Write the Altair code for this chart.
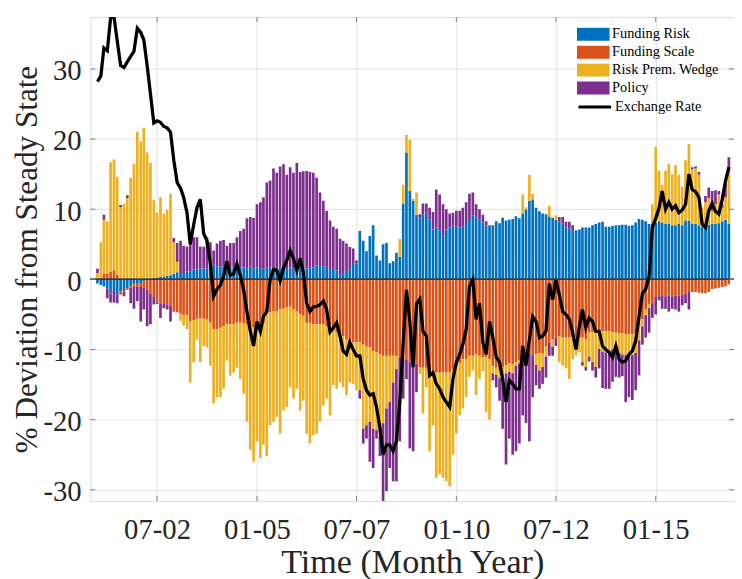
import altair as alt
import pandas as pd

SERIES = ["Funding Risk", "Funding Scale", "Risk Prem. Wedge", "Policy"]
COLORS = ["#0072BD", "#D95319", "#EDB120", "#7E2F8E"]
LINE_NAME = "Exchange Rate"
START = "2001-01-01"

FUNDING_RISK = [
    -0.6, -0.8, -1.0, -1.3, -2.0, -1.5, -2.2, -1.7, -1.5, -1.3, -0.8, -0.7, -0.5, -0.5, -0.3, 0.1,
    0.1, 0.2, 0.25, 0.4, 0.4, 0.5, 0.6, 0.8, 1.0, 0.9, 0.9, 1.1, 1.1, 1.4, 1.4,
    1.55, 1.55, 1.5, 1.6, 2.1, 1.8, 1.8, 1.8, 1.5, 1.6, 1.7, 1.7, 1.7, 1.7, 1.6, 1.8,
    1.6, 1.7, 1.5, 1.5, 1.6, 1.7, 1.5, 1.6, 1.8, 1.6, 1.5, 1.7, 1.6, 1.8, 1.6, 1.6,
    1.55, 1.6, 1.7, 2.0, 1.9, 1.8, 1.9, 1.3, 1.5, 1.3, 0.6, 0.9, 1.2, 1.5, 2.2, 2.3,
    6.9, 5.5, 4.0, 6.2, 7.7, 3.4, 2.7, 5.0, 5.2, 2.3, 2.6, 3.8, 3.2, 10.8, 18.1, 12.6,
    11.2, 9.2, 8.7, 9.3, 9.5, 8.5, 7.1, 7.4, 7.0, 6.3, 7.1, 7.4, 7.7, 7.5, 7.4, 7.5,
    7.9, 8.6, 9.1, 8.8, 8.5, 8.1, 7.7, 7.7, 7.7, 8.3, 8.0, 8.8, 8.4, 8.5, 8.6,
    9.0, 8.7, 9.4, 9.9, 11.2, 11.4, 10.2, 9.7, 9.4, 9.3, 8.9, 8.8, 8.5, 8.3, 8.0, 7.4,
    7.2, 7.0, 7.0, 7.1, 7.4, 7.4, 7.4, 7.7, 7.9, 8.1, 8.2, 7.5, 7.5, 7.6, 7.7, 7.7,
    7.8, 7.8, 7.6, 7.7, 8.1, 8.6, 8.5, 8.3, 7.9, 7.9, 8.1, 8.3, 8.1, 7.9, 7.9, 7.7,
    7.7, 7.9, 7.7, 8.4, 8.4, 7.9, 7.9, 7.7, 7.5, 7.5, 7.8, 7.9, 7.9, 8.0, 8.3, 8.5, 7.9,
]

FUNDING_SCALE = [
    0.0, 0.2, 0.8, 0.8, 1.1, 1.3, 0.7, -0.5, -0.2, -0.2, -0.4, -0.4, -0.5, -0.6, -0.9, -1.5,
    -2.0, -2.4, -3.3, -3.4, -3.5, -3.6, -3.7, -4.6, -4.7, -4.9, -5.1, -5.1, -6.0, -5.8, -5.6,
    -5.5, -5.6, -5.7, -6.2, -7.1, -7.1, -6.9, -6.7, -6.4, -6.4, -6.4, -6.2, -6.2, -6.3, -6.4, -6.7,
    -6.9, -6.9, -7.1, -6.2, -4.8, -4.7, -4.6, -4.6, -4.3, -4.2, -4.0, -3.9, -4.3, -4.6, -5.0, -5.2,
    -6.2, -6.3, -6.4, -6.4, -6.4, -6.4, -6.7, -7.1, -7.4, -7.6, -7.9, -8.1, -8.6, -8.8, -9.0, -9.0,
    -9.0, -9.3, -9.5, -9.7, -10.2, -10.4, -10.7, -10.9, -10.9, -10.9, -10.9, -10.9, -11.1, -11.4, -11.4, -11.7,
    -11.9, -12.0, -12.5, -12.6, -12.6, -12.9, -13.3, -13.3, -13.3, -13.3, -13.3, -13.2, -12.8, -12.4, -11.9, -11.4,
    -11.4, -10.9, -10.9, -10.7, -10.9, -11.1, -11.1, -11.4, -12.4, -12.6, -12.9, -12.5, -12.2, -12.0, -12.1,
    -11.8, -11.5, -10.9, -10.7, -10.5, -10.9, -10.7, -10.5, -10.5, -9.5, -9.0, -8.6, -8.3, -8.1, -8.3, -8.3,
    -8.3, -8.3, -8.3, -8.3, -8.3, -8.5, -7.5, -7.5, -7.4, -7.4, -7.4, -7.4, -7.4, -7.5, -7.6, -7.7,
    -7.7, -7.8, -7.8, -7.8, -7.7, -6.7, -5.7, -4.3, -3.6, -3.4, -2.5, -2.4, -2.2, -2.4, -2.3, -2.4,
    -2.3, -2.3, -2.2, -2.0, -1.8, -1.8, -1.8, -1.9, -2.0, -2.0, -1.8, -1.4, -1.3, -1.2, -1.1, -1.0, -0.7,
]

RISK_PREM_WEDGE = [
    0.9, 5.1, 7.7, 7.5, 15.6, 15.8, 13.9, 10.3, 10.8, 11.6, 14.5, 16.5, 21.0, 19.7, 21.6, 18.0,
    16.5, 11.1, 9.3, 11.3, 9.0, 9.4, 11.6, 4.5, 1.5, -1.0, -1.5, -2.0, -8.7, -6.0, -3.0,
    -6.3, -3.9, -4.0, -6.1, -10.6, -9.7, -9.9, -8.9, -5.2, -7.3, -6.9, -6.4, -8.0, -10.0, -13.9, -17.6,
    -19.1, -16.2, -18.4, -17.4, -20.4, -16.1, -15.7, -15.0, -17.7, -14.5, -14.2, -11.5, -12.7, -11.0, -13.7, -12.1,
    -15.8, -17.1, -15.8, -15.6, -13.9, -11.6, -10.3, -12.3, -7.7, -8.0, -6.8, -7.3, -7.9, -5.9, -5.9, -6.8,
    -6.8, -12.0, -11.3, -10.6, -11.1, -11.1, -11.7, -9.6, -7.5, -6.6, -3.8, -1.9, 2.6, 2.7, 2.5, 7.3,
    0.3, 3.2, -1.0, -6.5, -2.8, -11.6, -7.5, -15.0, -14.5, -15.0, -15.5, -16.3, -12.2, -9.6, -7.5, -7.0,
    -5.4, -3.0, -2.1, -5.8, -3.3, -2.0, -7.8, -8.6, -1.0, -1.0, -1.2, -1.5, -1.2, -1.2, -1.3,
    -0.5, -0.5, 2.7, 0.4, 3.7, 0.8, -1.5, -2.5, -2.0, -1.5, 1.6, -1.0, 0.6, -3.7, -4.0, -4.4,
    -5.9, -3.1, -2.6, -2.1, -3.5, -4.0, -3.5, -4.3, -5.1, -2.5, -2.9, -3.0, -2.8, -2.5, -2.3, -2.8,
    -3.0, -3.0, -3.0, -3.0, -2.8, -2.0, -1.0, -0.8, -0.5, 2.8, 10.8, 7.2, 5.4, 7.6, 8.6, 7.3,
    8.6, 7.0, 5.5, 8.6, 10.9, 7.8, 7.9, 7.2, 2.8, 3.5, 3.8, 1.9, 2.8, 4.1, 1.9, 3.2, 7.5,
]

POLICY = [
    0.6, 0.0, 0.7, -1.4, -1.3, -1.8, -1.2, 0.3, -0.7, 0.4, -2.2, -3.1, -2.1, -4.9, -3.1, -5.2,
    -4.4, -1.2, -0.2, -2.1, -0.6, -0.7, -2.3, 0.6, 2.7, 4.6, 3.9, 3.6, 4.4, 4.6, 4.6,
    3.15, 3.1, 4.5, 3.7, 2.0, 3.3, 3.7, 3.8, 3.3, 3.6, 3.5, 4.3, 5.2, 5.5, 7.1, 7.1,
    7.2, 9.0, 9.5, 10.2, 12.2, 12.4, 14.3, 13.6, 14.3, 14.8, 13.4, 14.3, 13.6, 14.8, 13.7, 13.8,
    13.9, 13.7, 13.5, 12.5, 10.5, 9.4, 7.9, 7.1, 6.0, 5.9, 5.2, 4.6, 3.9, 3.1, 2.2, 0.4,
    -1.2, -2.1, -1.9, -5.7, -5.6, -1.2, -2.8, -11.5, -11.8, -9.4, -14.1, -16.0, -12.0, -5.6, -2.8, -12.4,
    -12.6, -4.1, 0.6, 1.5, 1.3, 1.7, 2.5, 5.4, 5.1, 4.4, 2.9, 2.0, 1.8, 2.3, 2.4, 2.7,
    3.1, 3.6, 3.3, 1.9, 1.5, 1.1, 0.6, 0.0, -1.0, -1.8, -3.2, -7.3, -13.0, -9.5, -11.6,
    -12.2, -11.4, -8.5, -9.8, -12.6, -5.9, -2.9, -2.6, -2.4, -3.0, -1.9, -1.3, -1.2, 0.6, 0.9, 0.8,
    1.0, 0.7, 0.0, 0.0, -0.5, -0.5, -0.7, -1.2, -1.5, -2.8, -5.2, -5.2, -5.4, -4.6, -4.0, -3.5,
    -3.1, -6.7, -6.0, -6.4, -5.3, -5.0, -2.6, -3.2, -3.5, -2.1, -2.5, -0.6, -2.0, -1.8, -2.3, -1.8,
    -2.0, -2.3, -1.5, -1.4, -2.5, 0.3, 0.3, 0.4, 0.0, 0.9, 1.5, 2.8, 2.0, 0.5, 0.5, 1.9, 2.0,
]

EXCHANGE_RATE = [
    28.2, 29.0, 33.0, 32.6, 37.2, 37.5, 34.0, 30.5, 30.2, 31.0, 31.8, 32.5, 35.8, 35.2, 34.2, 30.5,
    26.5, 22.3, 22.6, 22.4, 21.8, 21.6, 21.0, 17.0, 13.8, 13.0, 11.7, 9.5, 5.0, 7.8, 10.2,
    11.4, 6.5, 5.5, 2.3, -2.4, -1.4, -0.8, 0.4, 2.6, 0.6, 0.8, 2.2, 0.6, -1.5, -4.6, -7.4,
    -9.5, -6.0, -7.4, -5.3, -4.6, -0.1, 1.4, 1.3, -0.2, 1.6, 2.7, 4.1, 3.0, 1.3, 3.0, 1.0,
    -3.4, -4.6, -3.9, -3.9, -3.6, -3.1, -4.3, -7.5, -6.9, -6.2, -8.1, -10.2, -10.7, -9.0, -10.0, -10.9,
    -10.9, -14.2, -15.8, -16.5, -16.3, -18.2, -21.2, -25.0, -23.6, -23.6, -24.5, -23.1, -17.5, -9.0, -1.5,
    -6.0, -12.5, -3.5, -2.8, -7.4, -8.1, -13.7, -13.3, -14.9, -15.6, -16.8, -17.5, -18.2, -14.2, -11.8, -10.7,
    -9.3, -7.1, -1.0, 0.0, -5.7, -3.4, -9.0, -10.7, -6.0, -8.3, -11.1, -11.8, -14.2, -17.5, -14.4, -14.9,
    -15.6, -15.6, -9.5, -12.3, -8.6, -5.3, -6.0, -8.3, -8.1, -7.4, -0.6, -2.9, -0.1, -2.2, -4.6, -5.0,
    -5.7, -7.6, -10.0, -6.7, -4.3, -6.9, -5.5, -6.0, -7.4, -7.4, -9.5, -10.0, -10.4, -11.1, -9.5, -11.4,
    -11.8, -11.6, -10.7, -10.2, -8.8, -5.3, -2.0, -1.4, 0.4, 7.4, 8.7, 10.2, 12.6, 10.0, 11.0, 10.0,
    10.5, 9.5, 9.9, 10.7, 15.0, 12.8, 12.5, 11.7, 7.9, 7.4, 9.8, 10.8, 9.7, 9.3, 11.4, 14.0, 16.0,
]

X_TICK_DATES = ["2002-07-01", "2005-01-01", "2007-07-01", "2010-01-01", "2012-07-01", "2015-01-01"]
Y_TICKS = [-30, -20, -10, 0, 10, 20, 30]
Y_DOMAIN = [-31.6, 37.4]

FONT = "Liberation Serif, Times New Roman, serif"
TEXT = "#262626"
FRAME = "#808080"
GRID = "#e2e2e2"
W, H = 650.7, 489.3
LEG_X = 491.9

n = min(len(FUNDING_RISK), len(FUNDING_SCALE), len(RISK_PREM_WEDGE), len(POLICY), len(EXCHANGE_RATE))
dates = [d.strftime("%Y-%m-%d") for d in pd.date_range(START, periods=n, freq="MS")]

rows = []
for k, (name, vals) in enumerate(zip(SERIES, [FUNDING_RISK, FUNDING_SCALE, RISK_PREM_WEDGE, POLICY])):
    for d, v in zip(dates, vals[:n]):
        rows.append({"date": d, "series": name, "value": v, "k": k})
bars_df = pd.DataFrame(rows)
line_df = pd.DataFrame({"date": dates, "value": EXCHANGE_RATE[:n], "label": LINE_NAME})
xt_df = pd.DataFrame({"date": X_TICK_DATES})
yt_df = pd.DataFrame({"value": Y_TICKS})

xscale = alt.Scale(
    type="utc",
    domain=[alt.DateTime(year=2000, month=12, date=12, hours=12, utc=True),
            alt.DateTime(year=2016, month=11, date=2, hours=17, utc=True)],
)
yscale = alt.Scale(domain=Y_DOMAIN, nice=False, zero=False)

xaxis = alt.Axis(
    values=[alt.DateTime(year=int(s[:4]), month=int(s[5:7]), date=1, utc=True) for s in X_TICK_DATES],
    format="%m-%y", labelFont=FONT, labelFontSize=29, labelColor=TEXT,
    ticks=False, tickSize=0, domain=False, grid=True, gridColor=GRID,
    labelPadding=38.4, labelBaseline="alphabetic", labelFlush=False, labelOverlap=False,
    title="Time (Month Year)", titleFont=FONT, titleFontSize=34.5, titleFontWeight="normal",
    titleColor=TEXT, titleY=72, titleBaseline="alphabetic",
)
yaxis = alt.Axis(
    values=Y_TICKS, labelExpr="'' + datum.value", labelFont=FONT, labelFontSize=29, labelColor=TEXT,
    ticks=False, tickSize=0, domain=False, grid=True, gridColor=GRID,
    labelPadding=9.3, labelBaseline="middle", labelOffset=2, labelFlush=False, labelOverlap=False,
    title="% Deviation from Steady State", titleFont=FONT, titleFontSize=31.5, titleFontWeight="normal",
    titleColor=TEXT, titleAngle=270, titleX=-54.6, titleY=H / 2, titleAlign="center",
    titleBaseline="alphabetic",
)

X = alt.X("date:T", scale=xscale, axis=xaxis)

bars = alt.Chart(bars_df).mark_bar(size=2.7, clip=True).encode(
    x=X,
    y=alt.Y("value:Q", stack="zero", scale=yscale, axis=yaxis),
    color=alt.Color(
        "series:N",
        scale=alt.Scale(domain=SERIES, range=COLORS),
        legend=alt.Legend(
            title=None, orient="none", legendX=LEG_X, legendY=10.4,
            symbolType="M-1,-0.4H1V0.4H-1Z", symbolSize=1089, symbolStrokeWidth=0,
            labelFont=FONT, labelFontSize=14.5, labelColor="black", labelOffset=2.5,
            clipHeight=14, rowPadding=3.1, padding=0,
        ),
    ),
    order=alt.Order("k:Q"),
)

zero_rule = alt.Chart(yt_df).mark_rule(color="#3a3a3a", strokeWidth=1).encode(
    y=alt.datum(0, scale=yscale, axis=yaxis)
)

line = alt.Chart(line_df).mark_line(strokeWidth=3.3, clip=True).encode(
    x=X,
    y=alt.Y("value:Q", scale=yscale, axis=yaxis),
    stroke=alt.Stroke(
        "label:N",
        scale=alt.Scale(domain=[LINE_NAME], range=["black"]),
        legend=alt.Legend(
            title=None, orient="none", legendX=LEG_X, legendY=84,
            symbolType="stroke", symbolSize=1089, symbolStrokeWidth=3,
            labelFont=FONT, labelFontSize=14.5, labelColor="black", labelOffset=2.5,
            clipHeight=14, padding=0,
        ),
    ),
)

xt_bottom = alt.Chart(xt_df).mark_rule(color=FRAME).encode(x=X, y=alt.value(H), y2=alt.value(H - 5))
xt_top = alt.Chart(xt_df).mark_rule(color=FRAME).encode(x=X, y=alt.value(0), y2=alt.value(5))
Yt = alt.Y("value:Q", scale=yscale, axis=yaxis)
yt_left = alt.Chart(yt_df).mark_rule(color=FRAME).encode(y=Yt, x=alt.value(0), x2=alt.value(5))
yt_right = alt.Chart(yt_df).mark_rule(color=FRAME).encode(y=Yt, x=alt.value(W), x2=alt.value(W - 5))

chart = alt.layer(bars, zero_rule, line, xt_bottom, xt_top, yt_left, yt_right).properties(
    width=W, height=H,
    padding={"left": 83.3, "top": 6, "right": 0, "bottom": 75.7},
    autosize=alt.AutoSizeParams(type="none"),
).configure_view(stroke=FRAME, strokeWidth=1).configure(background="white")

chart.save("out.html", embed_options={"renderer": "svg", "actions": False})
